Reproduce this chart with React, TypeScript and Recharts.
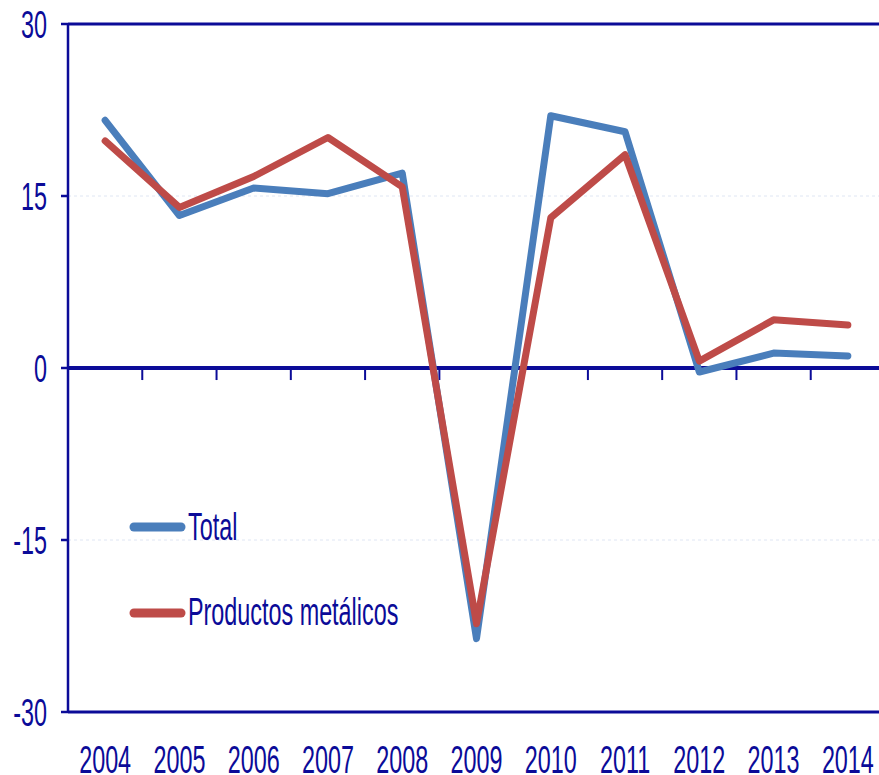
import React from 'react';
import { LineChart, Line, XAxis, YAxis, CartesianGrid, ReferenceLine } from 'recharts';

const years = ['2004', '2005', '2006', '2007', '2008', '2009', '2010', '2011', '2012', '2013', '2014'];
const totalValues = [21.6, 13.3, 15.7, 15.2, 17.0, -23.6, 22.0, 20.6, -0.35, 1.3, 1.05];
const metalValues = [19.8, 14.0, 16.7, 20.1, 15.8, -22.3, 13.1, 18.6, 0.6, 4.2, 3.75];
const yTicks = [-30, -15, 0, 15, 30];
const seriesNames = ['Total', 'Productos metálicos'];
const seriesColors = ['#4A7EBB', '#BE4B48'];

const NAVY = '#0b0b98';
const FONT = '"Liberation Sans", Arial, sans-serif';

const data = years.map((year, i) => ({
  x: i + 0.5,
  year,
  total: totalValues[i],
  metal: metalValues[i],
}));
const xTickPositions = years.map((_, i) => i + 0.5);
const boundaries = years.slice(1).map((_, i) => i + 1);

const XTick = (props: any) => {
  const { x, payload } = props;
  const label = years[Math.floor(payload.value)];
  return (
    <g transform={`translate(${x},773)`}>
      <text transform="scale(0.615,1)" textAnchor="middle" fontSize={38} fontFamily={FONT} fill={NAVY}>
        {label}
      </text>
    </g>
  );
};

const YTick = (props: any) => {
  const { x, y, payload } = props;
  return (
    <g transform={`translate(${x},${y})`}>
      <text transform="scale(0.615,1)" textAnchor="end" dy="0.36em" fontSize={38} fontFamily={FONT} fill={NAVY}>
        {payload.value}
      </text>
    </g>
  );
};

const LegendOverlay = () => (
  <svg width={320} height={140} style={{ position: 'absolute', left: 120, top: 500 }}>
    {seriesNames.map((name, i) => {
      const cy = i === 0 ? 27 : 113;
      const base = i === 0 ? 40 : 125;
      return (
        <g key={name}>
          <line x1={14} x2={61} y1={cy} y2={cy} stroke={seriesColors[i]} strokeWidth={9} strokeLinecap="round" />
          <g transform={`translate(68,${base})`}>
            <text transform="scale(0.615,1)" fontSize={38} fontFamily={FONT} fill={NAVY}>
              {name}
            </text>
          </g>
        </g>
      );
    })}
  </svg>
);

export default function App() {
  return (
    <div style={{ position: 'fixed', left: 0, top: 0, width: 879, height: 775, overflow: 'hidden', background: '#fff' }}>
      <LineChart width={887} height={775} data={data} margin={{ top: 24, right: 2, bottom: 0, left: 0 }}>
        <CartesianGrid vertical={false} stroke="#dfe6f3" strokeDasharray="3 3" />
        <XAxis
          type="number"
          dataKey="x"
          domain={[0, 11]}
          ticks={xTickPositions}
          interval={0}
          tickLine={false}
          axisLine={{ stroke: NAVY, strokeWidth: 3 }}
          height={63}
          tick={XTick}
        />
        <YAxis
          type="number"
          domain={[-30, 30]}
          ticks={yTicks}
          interval={0}
          width={68}
          tickSize={7}
          tickMargin={14}
          axisLine={{ stroke: NAVY, strokeWidth: 2.5 }}
          tickLine={{ stroke: NAVY, strokeWidth: 2.5 }}
          tick={YTick}
        />
        <ReferenceLine y={30} stroke={NAVY} strokeWidth={3} />
        <ReferenceLine y={0} stroke={NAVY} strokeWidth={4} />
        {boundaries.map((b) => (
          <ReferenceLine
            key={b}
            segment={[
              { x: b, y: 0 },
              { x: b, y: -1.05 },
            ]}
            stroke={NAVY}
            strokeWidth={2}
          />
        ))}
        <Line
          dataKey="total"
          name={seriesNames[0]}
          stroke={seriesColors[0]}
          strokeWidth={7}
          strokeLinecap="round"
          strokeLinejoin="round"
          dot={false}
          activeDot={false}
          isAnimationActive={false}
        />
        <Line
          dataKey="metal"
          name={seriesNames[1]}
          stroke={seriesColors[1]}
          strokeWidth={7}
          strokeLinecap="round"
          strokeLinejoin="round"
          dot={false}
          activeDot={false}
          isAnimationActive={false}
        />
      </LineChart>
      <LegendOverlay />
    </div>
  );
}
